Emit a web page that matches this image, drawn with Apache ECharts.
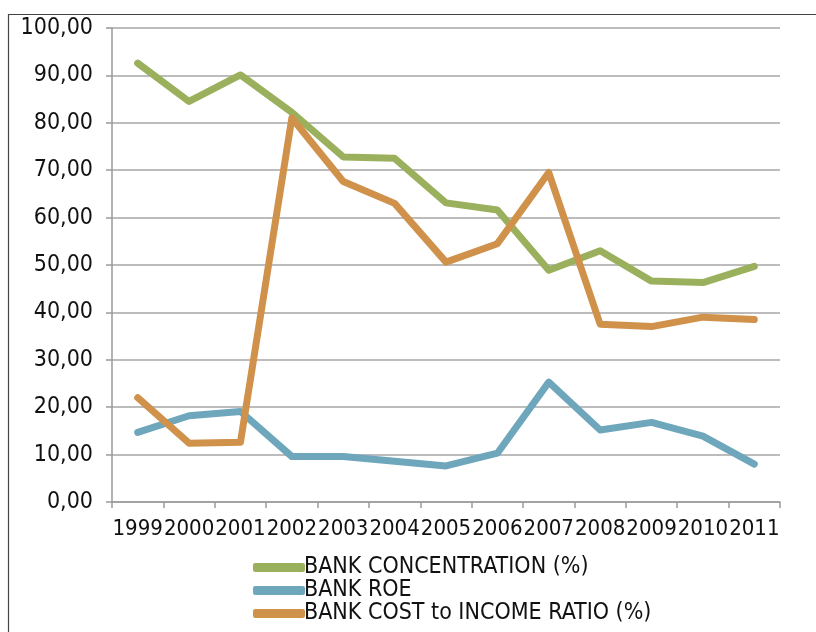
<!DOCTYPE html>
<html>
<head>
<meta charset="utf-8">
<script src="https://cdn.jsdelivr.net/npm/echarts@6/dist/echarts.min.js"></script>
<style>
  html, body { margin: 0; padding: 0; background: #fff; }
  #chart { width: 816px; height: 632px; }
</style>
</head>
<body>
<div id="chart"></div>
<script>
// Banking indicators, 1999–2011
const years = ['1999','2000','2001','2002','2003','2004','2005','2006','2007','2008','2009','2010','2011'];
const concentration = [92.6, 84.5, 90.1, 82.2, 72.8, 72.5, 63.1, 61.6, 48.9, 53.0, 46.6, 46.3, 49.7];
const roe = [14.7, 18.2, 19.1, 9.6, 9.6, 8.6, 7.6, 10.3, 25.3, 15.2, 16.8, 13.9, 8.0];
const costIncome = [22.0, 12.4, 12.6, 81.0, 67.6, 63.0, 50.6, 54.5, 69.5, 37.5, 37.0, 39.0, 38.5];
const yTicks = { min: 0, max: 100, interval: 10 };

const FONT = '"DejaVu Sans Condensed", "DejaVu Sans", sans-serif';
const chart = echarts.init(document.getElementById('chart'), null, { renderer: 'canvas' });

function lineSeries(name, data, color) {
  return {
    name: name,
    type: 'line',
    data: data,
    symbol: 'none',
    color: color,
    lineStyle: { width: 7, color: color, cap: 'round', join: 'round' },
    itemStyle: { color: color }
  };
}

chart.setOption({
  animation: false,
  backgroundColor: '#ffffff',
  textStyle: { fontFamily: FONT },
  graphic: [{
    type: 'rect',
    left: 6, top: 12,
    shape: { width: 830, height: 650 },
    style: { fill: 'none', stroke: '#444', lineWidth: 1.2 },
    silent: true
  }],
  grid: { left: 112, right: 36, top: 28, bottom: 130 },
  xAxis: {
    type: 'category',
    data: years,
    boundaryGap: true,
    axisLine: { lineStyle: { color: '#9a9a9a', width: 1.5 } },
    axisTick: { show: true, length: 6, alignWithLabel: false, lineStyle: { color: '#9a9a9a', width: 1.5 } },
    axisLabel: { color: '#111', fontSize: 22, fontFamily: FONT, margin: 16, interval: 0, hideOverlap: false }
  },
  yAxis: {
    type: 'value',
    min: yTicks.min, max: yTicks.max, interval: yTicks.interval,
    axisLine: { show: true, lineStyle: { color: '#9a9a9a', width: 1.5 } },
    axisTick: { show: true, length: 6, lineStyle: { color: '#9a9a9a', width: 1.5 } },
    splitLine: { lineStyle: { color: '#a6a6a6', width: 1.5 } },
    axisLabel: {
      color: '#111', fontSize: 23, fontFamily: FONT, margin: 19,
      formatter: v => v.toFixed(2).replace('.', ',')
    }
  },
  legend: {
    orient: 'vertical',
    left: 248, top: 551,
    itemWidth: 52, itemHeight: 9, itemGap: 0,
    icon: 'roundRect',
    textStyle: { color: '#111', fontSize: 23, fontFamily: FONT, padding: [0, 0, 0, -6], lineHeight: 23 },
    data: ['BANK CONCENTRATION (%)', 'BANK ROE', 'BANK COST to INCOME RATIO (%)']
  },
  series: [
    lineSeries('BANK CONCENTRATION (%)', concentration, '#9bb05d'),
    lineSeries('BANK ROE', roe, '#6ea7bc'),
    lineSeries('BANK COST to INCOME RATIO (%)', costIncome, '#d0914b')
  ]
});
</script>
</body>
</html>
